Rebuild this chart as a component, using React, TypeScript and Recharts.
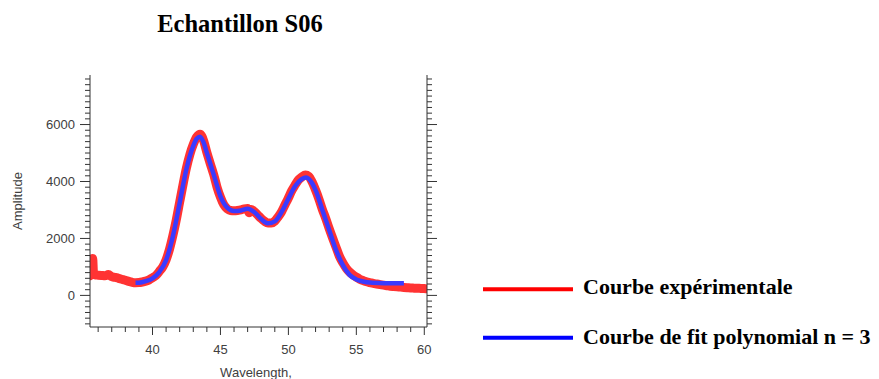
import React from "react";
import { LineChart, Line, XAxis, YAxis } from "recharts";

// Courbe expérimentale (red, measured points)
const expWavelength = [
  35.4, 35.5, 35.55, 35.6, 35.65, 35.75, 36.0, 36.25, 36.5, 36.75, 37.0, 37.25,
  37.5, 37.75, 38.0, 38.25, 38.5, 38.75, 39.0, 39.25, 39.5, 39.75, 40.0, 40.25,
  40.5, 40.75, 41.0, 41.25, 41.5, 41.75, 42.0, 42.25, 42.5, 42.75, 43.0, 43.25,
  43.5, 43.75, 44.0, 44.25, 44.5, 44.75, 45.0, 45.25, 45.5, 45.75, 46.0, 46.25,
  46.5, 46.75, 47.0, 47.1, 47.25, 47.5, 47.75, 48.0, 48.25, 48.5, 48.75, 49.0,
  49.25, 49.5, 49.75, 50.0, 50.25, 50.5, 50.75, 51.0, 51.25, 51.5, 51.75, 52.0,
  52.25, 52.5, 52.75, 53.0, 53.25, 53.5, 53.75, 54.0, 54.25, 54.5, 54.75, 55.0,
  55.25, 55.5, 55.75, 56.0, 56.25, 56.5, 56.75, 57.0, 57.25, 57.5, 57.75, 58.0,
  58.25, 58.5, 58.75, 59.0, 59.25, 59.5, 59.75, 60.0, 60.15,
];
const expAmplitude = [
  690, 740, 1000, 1300, 850, 720, 710, 700, 690, 730, 660, 630,
  600, 565, 530, 490, 460, 445, 450, 470, 500, 545, 620, 700,
  840, 1000, 1250, 1620, 2100, 2650, 3280, 3900, 4480, 4950, 5300, 5560,
  5660, 5450, 5020, 4630, 4250, 3800, 3450, 3180, 3040, 2980, 2970, 2980,
  3000, 3040, 3050, 2900, 3020, 2940, 2820, 2700, 2600, 2540, 2540, 2610,
  2760, 2940, 3180, 3420, 3680, 3880, 4060, 4160, 4230, 4180, 3980, 3700,
  3380, 3020, 2700, 2350, 2020, 1700, 1380, 1150, 960, 820, 720, 640,
  570, 520, 480, 450, 420, 400, 380, 360, 340, 320, 310, 300,
  290, 280, 270, 260, 255, 250, 245, 240, 230,
];

// Courbe de fit polynomial n = 3 (blue)
const fitWavelength = [
  38.75, 39.0, 39.5, 40.0, 40.5, 41.0, 41.5, 42.0, 42.5, 43.0, 43.25, 43.5,
  43.75, 44.0, 44.5, 45.0, 45.5, 46.0, 46.5, 47.0, 47.5, 48.0, 48.5, 49.0,
  49.5, 50.0, 50.5, 51.0, 51.3, 51.75, 52.0, 52.5, 53.0, 53.5, 54.0, 54.5,
  55.0, 55.5, 56.0, 57.0, 58.0, 58.5,
];
const fitAmplitude = [
  440, 445, 500, 600, 820, 1240, 2080, 3250, 4450, 5250, 5500, 5570,
  5380, 5000, 4250, 3480, 3080, 2960, 2980, 3040, 2920, 2680, 2530, 2600,
  2930, 3400, 3840, 4090, 4140, 3940, 3700, 3000, 2300, 1600, 1070, 720,
  560, 490, 450, 430, 425, 425,
];

const xTicks = [
  36, 37, 38, 39, 40, 41, 42, 43, 44, 45, 46, 47, 48, 49, 50, 51, 52, 53, 54,
  55, 56, 57, 58, 59, 60,
];
const xLabels = [40, 45, 50, 55, 60];
const yLabels = [0, 2000, 4000, 6000];
const yTicks: number[] = [];
for (let v = -1000; v <= 7600; v += 200) yTicks.push(v);

const AXIS = "#333";
const TICK_FONT = "'Liberation Sans', Arial, sans-serif";
const SERIF = "'Liberation Serif', 'Times New Roman', serif";

const expData = expWavelength.map((x, i) => ({ x, y: expAmplitude[i] }));
const fitData = fitWavelength.map((x, i) => ({ x, y: fitAmplitude[i] }));

const XTick = (props: any) => {
  const { x, y, payload } = props;
  const major = xLabels.includes(payload.value);
  return (
    <g>
      <line x1={x} x2={x} y1={y} y2={y + (major ? 8 : 5)} stroke={AXIS} />
      {major && (
        <text x={x} y={y + 26.5} textAnchor="middle" fontSize={13} fontFamily={TICK_FONT} fill="#404040">
          {payload.value}
        </text>
      )}
    </g>
  );
};

const LeftTick = (props: any) => {
  const { x, y, payload } = props;
  const major = yLabels.includes(payload.value);
  return (
    <g>
      <line x1={x} x2={x - (major ? 10 : 5)} y1={y} y2={y} stroke={AXIS} />
      {major && (
        <text x={x - 15} y={y + 4.5} textAnchor="end" fontSize={13} fontFamily={TICK_FONT} fill="#404040">
          {payload.value}
        </text>
      )}
    </g>
  );
};

const RightTick = (props: any) => {
  const { x, y, payload } = props;
  const major = yLabels.includes(payload.value);
  return <line x1={x} x2={x + (major ? 10 : 5)} y1={y} y2={y} stroke={AXIS} />;
};

export default function App() {
  return (
    <div style={{ position: "relative", width: 879, height: 379, background: "#fff" }}>
      <style>{`body{margin:0}`}</style>
      <LineChart width={879} height={379} margin={{ top: 75, right: 432, bottom: 22, left: 40 }}>
        <XAxis
          type="number"
          dataKey="x"
          domain={[35.4, 60.2]}
          allowDataOverflow
          ticks={xTicks}
          interval={0}
          tick={<XTick />}
          tickSize={0}
          tickMargin={0}
          tickLine={false}
          stroke={AXIS}
          height={30}
        />
        <YAxis
          yAxisId="left"
          type="number"
          domain={[-1110, 7740]}
          allowDataOverflow
          ticks={yTicks}
          interval={0}
          tick={<LeftTick />}
          tickSize={0}
          tickMargin={0}
          tickLine={false}
          stroke={AXIS}
          width={50}
        />
        <YAxis
          yAxisId="right"
          orientation="right"
          type="number"
          domain={[-1110, 7740]}
          allowDataOverflow
          ticks={yTicks}
          interval={0}
          tick={<RightTick />}
          tickSize={0}
          tickMargin={0}
          tickLine={false}
          stroke={AXIS}
          width={20}
        />
        <Line
          yAxisId="left"
          data={expData}
          dataKey="y"
          type="monotone"
          stroke="#ff3333"
          strokeWidth={9}
          strokeLinejoin="round"
          strokeLinecap="round"
          dot={false}
          isAnimationActive={false}
        />
        <Line
          yAxisId="left"
          data={fitData}
          dataKey="y"
          type="monotone"
          stroke="#3a3aff"
          strokeWidth={4.5}
          dot={false}
          isAnimationActive={false}
        />
      </LineChart>
      <svg
        width={879}
        height={379}
        style={{ position: "absolute", left: 0, top: 0, pointerEvents: "none" }}
      >
        <text x={240} y={32} textAnchor="middle" fontSize={24.5} fontWeight="bold" fontFamily={SERIF} fill="#000">
          Echantillon S06
        </text>
        <text
          x={17}
          y={201}
          transform="rotate(-90 17 201)"
          textAnchor="middle"
          dominantBaseline="central"
          fontSize={13}
          fontFamily={TICK_FONT}
          fill="#404040"
        >
          Amplitude
        </text>
        <text x={256} y={376.5} textAnchor="middle" fontSize={13} fontFamily={TICK_FONT} fill="#404040">
          Wavelength,
        </text>
        <line x1={483} x2={573} y1={289.3} y2={289.3} stroke="#ff0000" strokeWidth={4} />
        <text x={583} y={293.5} fontSize={22} fontWeight="bold" fontFamily={SERIF} fill="#000">
          Courbe expérimentale
        </text>
        <line x1={483} x2={573} y1={337.7} y2={337.7} stroke="#0000ff" strokeWidth={4} />
        <text x={583} y={343.5} fontSize={22} fontWeight="bold" fontFamily={SERIF} fill="#000">
          Courbe de fit polynomial n = 3
        </text>
      </svg>
    </div>
  );
}
